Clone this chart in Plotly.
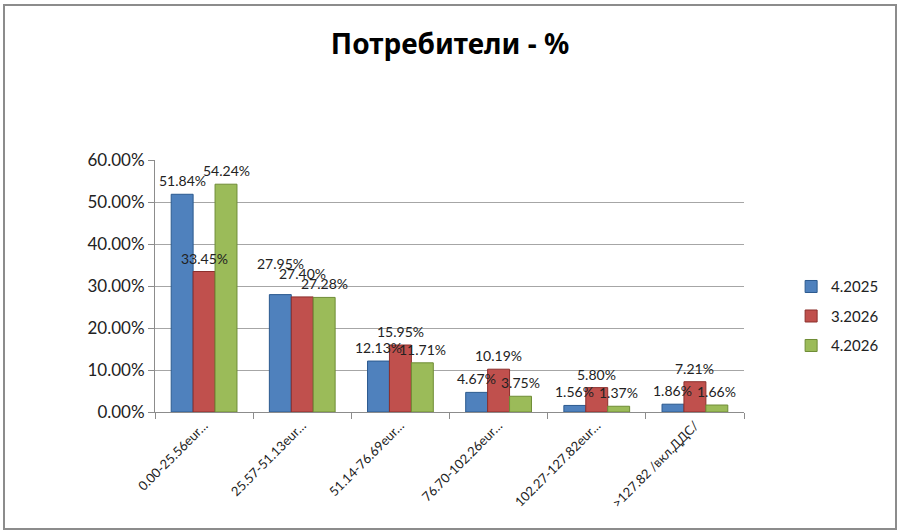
import plotly.graph_objects as go

categories = ["0.00-25.56eur…", "25.57-51.13eur…", "51.14-76.69eur…",
              "76.70-102.26eur…", "102.27-127.82eur…", ">127.82 /вкл.ДДС/"]
series_names = ["4.2025", "3.2026", "4.2026"]
s_2025_4 = [0.5184, 0.2795, 0.1213, 0.0467, 0.0156, 0.0186]
s_2026_3 = [0.3345, 0.2740, 0.1595, 0.1019, 0.0580, 0.0721]
s_2026_4 = [0.5424, 0.2728, 0.1171, 0.0375, 0.0137, 0.0166]
colors = ["#4F81BD", "#C0504D", "#9BBB59"]
lines = ["#2C5A8F", "#8C2F2C", "#6E8C35"]

W, H = 900, 531
ML, MR, MT, MB = 155, 156, 160, 119
BARGAP = 0.33
YMAX = 0.6
plot_w = W - ML - MR
plot_h = H - MT - MB
bar_px = plot_w / len(categories) * (1 - BARGAP) / len(series_names)
LABEL_SEP = 10  # min vertical separation (px) between neighbouring labels

fig = go.Figure()
all_series = [s_2025_4, s_2026_3, s_2026_4]
for i, (name, vals) in enumerate(zip(series_names, all_series)):
    fig.add_trace(go.Bar(
        x=categories, y=vals, name=name,
        marker=dict(color=colors[i], line=dict(color=lines[i], width=1)),
        legendgroup=name,
    ))

# data labels, nudged upward (right to left) where neighbours collide
annotations = []
for ci, c in enumerate(categories):
    vals = [s[ci] for s in all_series]
    natural = [v / YMAX * plot_h for v in vals]  # label base height in px
    placed = list(natural)
    for i in range(len(vals) - 2, -1, -1):
        if abs(placed[i] - placed[i + 1]) < LABEL_SEP:
            placed[i] = max(placed[i], placed[i + 1] + LABEL_SEP)
    for i, v in enumerate(vals):
        annotations.append(dict(
            x=c, y=v, xref="x", yref="y", text=f"{v*100:.2f}%",
            showarrow=False, xanchor="center", yanchor="bottom",
            xshift=(i - 1) * bar_px, yshift=3 + (placed[i] - natural[i]),
            font=dict(family="Lato, Noto Sans, sans-serif", size=14, color="#222222"),
        ))

fig.update_layout(
    width=W, height=H,
    paper_bgcolor="white", plot_bgcolor="white",
    barmode="group", bargap=BARGAP, bargroupgap=0.0,
    margin=dict(l=ML, r=MR, t=MT, b=MB),
    title=dict(text="<b>Потребители - %</b>", x=0.5, xanchor="center",
               y=0.917, yanchor="middle",
               font=dict(family="Noto Sans, sans-serif", size=28, color="#000000")),
    font=dict(family="Lato, Noto Sans, sans-serif", color="#222222"),
    legend=dict(x=1.08, xanchor="left", y=0.38, yanchor="middle",
                font=dict(size=15, color="#222222"),
                traceorder="grouped", tracegroupgap=7,
                bgcolor="rgba(0,0,0,0)"),
    showlegend=True,
    annotations=annotations,
    shapes=[dict(type="rect", xref="paper", yref="paper",
                 x0=-151/plot_w, x1=741/plot_w, y0=-117/plot_h, y1=407/plot_h,
                 line=dict(color="#8C8C8C", width=2), fillcolor="rgba(0,0,0,0)",
                 layer="below")],
)
fig.update_xaxes(
    showline=True, linecolor="#8C8C8C", linewidth=1,
    ticks="outside", tickson="boundaries", ticklen=6, tickcolor="#8C8C8C",
    tickangle=-45, tickfont=dict(size=13, color="#222222"),
    showgrid=False,
)
fig.update_yaxes(
    range=[0, YMAX], dtick=0.1, tickformat=".2%",
    showline=True, linecolor="#8C8C8C", linewidth=1,
    ticks="outside", ticklen=6, tickcolor="#8C8C8C",
    showgrid=True, gridcolor="#A6A6A6", gridwidth=1,
    tickfont=dict(size=17, color="#222222"), zeroline=False,
)

fig.write_html("out.html", config={"displayModeBar": False},
               post_script="document.body.style.margin='0px';")
